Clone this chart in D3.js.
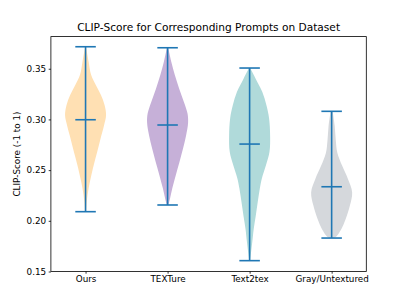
<!DOCTYPE html>
<html>
<head>
<meta charset="utf-8">
<script src="https://cdn.jsdelivr.net/npm/d3@7"></script>
<style>
  body { margin: 0; background: #fff; }
  text { font-family: "DejaVu Sans", sans-serif; fill: #000; }
</style>
</head>
<body>
<div id="chart"></div>
<script>
const categories = ["Ours", "TEXTure", "Text2tex", "Gray/Untextured"];
const fills = ["#ffe0b3", "#c6b0d8", "#b0dada", "#d5d8dc"];

// summary stats
const maxes = [0.3717, 0.3707, 0.3507, 0.3080];
const mins = [0.2090, 0.2156, 0.1607, 0.1830];
const means = [0.2997, 0.2945, 0.2757, 0.2336];

// violin outlines: [value, relative half-width]
const profOurs = [[0.3717, 0.02], [0.357, 0.15], [0.344, 0.27], [0.334, 0.5], [0.324, 0.75], [0.314, 0.93],
  [0.304, 1.0], [0.294, 0.9], [0.281, 0.73], [0.268, 0.57], [0.255, 0.4], [0.242, 0.25], [0.232, 0.15],
  [0.219, 0.06], [0.209, 0.03]];
const profTexture = [[0.3707, 0.03], [0.357, 0.18], [0.344, 0.35], [0.330, 0.57], [0.317, 0.8], [0.306, 0.97],
  [0.297, 1.0], [0.284, 0.9], [0.271, 0.75], [0.258, 0.58], [0.245, 0.4], [0.232, 0.23], [0.222, 0.12],
  [0.2156, 0.04]];
const profText2tex = [[0.3507, 0.03], [0.340, 0.3], [0.327, 0.62], [0.314, 0.82], [0.301, 0.95], [0.284, 1.0],
  [0.268, 0.97], [0.255, 0.8], [0.242, 0.6], [0.232, 0.5], [0.219, 0.4], [0.205, 0.3], [0.192, 0.2],
  [0.179, 0.13], [0.169, 0.07], [0.1607, 0.02]];
const profGray = [[0.308, 0.05], [0.2935, 0.15], [0.280, 0.2], [0.267, 0.28], [0.254, 0.52], [0.241, 0.8],
  [0.228, 1.0], [0.215, 0.89], [0.2015, 0.68], [0.1916, 0.47], [0.1843, 0.22], [0.183, 0.1]];
const profiles = [profOurs, profTexture, profText2tex, profGray];

const yTicks = [0.15, 0.20, 0.25, 0.30, 0.35];

const width = 407, height = 305;
const margin = { top: 36.6, right: 40.7, bottom: 33.5, left: 50.9 };
const lineColor = "#1f77b4";

const svg = d3.select("#chart").append("svg")
  .attr("width", width).attr("height", height);

const x = d3.scaleLinear()
  .domain([0.5775, 4.4225])
  .range([margin.left, width - margin.right]);

const y = d3.scaleLinear()
  .domain([0.15, 0.3817])
  .range([height - margin.bottom, margin.top]);

const halfW = x(1.25) - x(1);   // widths = 0.5
const capW = x(1.125) - x(1);

const area = d3.area()
  .y(d => y(d[0]))
  .curve(d3.curveCatmullRom);

categories.forEach((c, i) => {
  const cx = x(i + 1);
  svg.append("path")
    .datum(profiles[i])
    .attr("d", area.x0(d => cx - d[1] * halfW).x1(d => cx + d[1] * halfW))
    .attr("fill", fills[i]);

  const g = svg.append("g").attr("stroke", lineColor).attr("stroke-width", 1.6);
  g.append("line").attr("x1", cx).attr("x2", cx).attr("y1", y(mins[i])).attr("y2", y(maxes[i]));
  [maxes[i], mins[i], means[i]].forEach(v => {
    g.append("line")
      .attr("x1", cx - capW).attr("x2", cx + capW)
      .attr("y1", y(v)).attr("y2", y(v));
  });
});

// frame
svg.append("rect")
  .attr("x", margin.left).attr("y", margin.top)
  .attr("width", width - margin.left - margin.right)
  .attr("height", height - margin.top - margin.bottom)
  .attr("fill", "none").attr("stroke", "#000").attr("stroke-width", 0.8);

const yAxis = svg.append("g")
  .attr("transform", `translate(${margin.left},0)`)
  .call(d3.axisLeft(y).tickValues(yTicks).tickFormat(d3.format(".2f")).tickSizeOuter(0).tickSize(2.2).tickPadding(2.5));
yAxis.select(".domain").remove();
yAxis.selectAll("text").style("font-size", "8.8px").style("font-family", "DejaVu Sans");
yAxis.selectAll("line").attr("stroke-width", 0.8);

const xAxis = svg.append("g")
  .attr("transform", `translate(0,${height - margin.bottom})`)
  .call(d3.axisBottom(x).tickValues([1, 2, 3, 4]).tickFormat((d, i) => categories[i]).tickSizeOuter(0).tickSize(2.2).tickPadding(2.5));
xAxis.select(".domain").remove();
xAxis.selectAll("text").style("font-size", "8.8px").style("font-family", "DejaVu Sans");
xAxis.selectAll("line").attr("stroke-width", 0.8);

svg.append("text")
  .attr("x", (margin.left + width - margin.right) / 2)
  .attr("y", 31)
  .attr("text-anchor", "middle")
  .style("font-size", "10.6px")
  .text("CLIP-Score for Corresponding Prompts on Dataset");

svg.append("text")
  .attr("transform", "rotate(-90)")
  .attr("x", -(margin.top + height - margin.bottom) / 2)
  .attr("y", 20)
  .attr("text-anchor", "middle")
  .style("font-size", "8.8px")
  .text("CLIP-Score (-1 to 1)");
</script>
</body>
</html>
